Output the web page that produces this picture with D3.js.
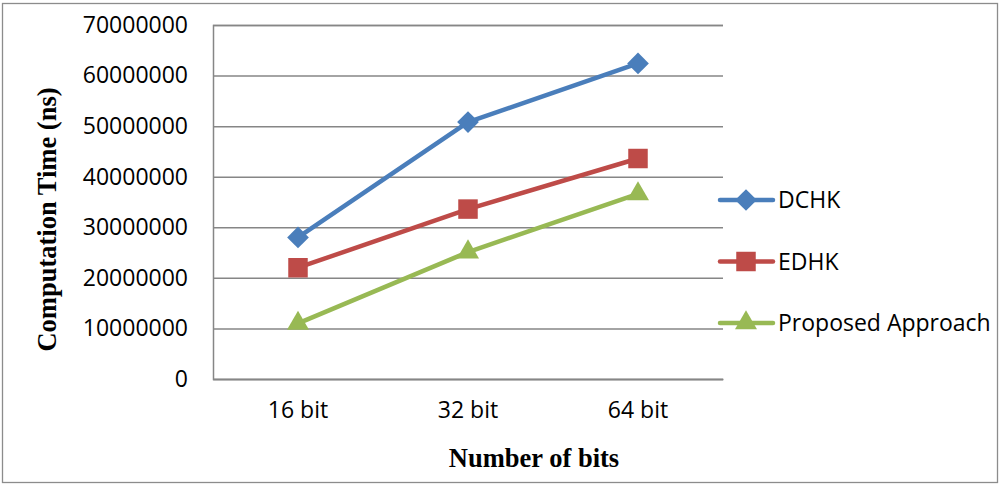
<!DOCTYPE html>
<html><head><meta charset="utf-8">
<script src="https://cdn.jsdelivr.net/npm/d3@7"></script>
<style>body{margin:0;background:#fff}svg{display:block}</style>
</head><body><div id="chart"></div>
<script>
const categories = ["16 bit", "32 bit", "64 bit"];
const dchk = [28000000, 50800000, 62400000];
const edhk = [22000000, 33600000, 43600000];
const proposed = [11000000, 25100000, 36600000];
const yTicks = [0, 10000000, 20000000, 30000000, 40000000, 50000000, 60000000, 70000000];
const seriesNames = ["DCHK", "EDHK", "Proposed Approach"];
const seriesColors = ["#4A7EBB", "#BE4B48", "#98B954"];
const seriesSymbols = [d3.symbolDiamond2, d3.symbolSquare, d3.symbolTriangle];

const series = [dchk, edhk, proposed].map((v, i) => ({name: seriesNames[i], values: v, color: seriesColors[i], symbol: seriesSymbols[i]}));

const W = 1000, H = 484;
const svg = d3.select("#chart").append("svg").attr("width", W).attr("height", H);

svg.append("rect").attr("x", 2.5).attr("y", 3.5).attr("width", 995).attr("height", 479)
  .attr("fill", "#fff").attr("stroke", "#8c8c8c").attr("stroke-width", 1.3);

const m = {left: 213, right: 723, top: 25, bottom: 379};
const x = d3.scaleBand().domain(categories).range([m.left, m.right]);
const y = d3.scaleLinear().domain([0, 70000000]).range([m.bottom, m.top]);
const symSize = s => s === d3.symbolTriangle ? 210 : (s === d3.symbolSquare ? 380 : 300);

const yAxis = d3.axisLeft(y).tickValues(yTicks).tickSize(-(m.right - m.left)).tickFormat(d3.format("d"));
const gy = svg.append("g").attr("transform", `translate(${m.left},0)`).call(yAxis);
gy.select(".domain").attr("stroke", "#868686").attr("stroke-width", 1.5);
gy.selectAll(".tick line").attr("stroke", "#868686").attr("stroke-width", 1.5);
gy.selectAll(".tick text").attr("font-family", "'Open Sans', sans-serif").attr("font-size", 23).attr("fill", "#000").attr("x", -25);

const xAxis = d3.axisBottom(x).tickSize(0).tickPadding(23);
const gx = svg.append("g").attr("transform", `translate(0,${m.bottom})`).call(xAxis);
gx.select(".domain").attr("stroke", "#868686").attr("stroke-width", 1.5);
gx.selectAll(".tick text").attr("font-family", "'Open Sans', sans-serif").attr("font-size", 23).attr("fill", "#000");

const cx = d => x(d) + x.bandwidth() / 2;
const line = d3.line().x((d, i) => cx(categories[i])).y(d => y(d));

series.forEach(s => {
  svg.append("path").datum(s.values).attr("d", line).attr("fill", "none")
    .attr("stroke", s.color).attr("stroke-width", 4.5).attr("stroke-linejoin", "round").attr("stroke-linecap", "round");
  svg.selectAll(null).data(s.values).enter().append("path")
    .attr("d", d3.symbol().type(s.symbol).size(symSize(s.symbol)))
    .attr("transform", (d, i) => `translate(${cx(categories[i])},${y(d)})`)
    .attr("fill", s.color);
});

const lg = svg.append("g");
series.forEach((s, i) => {
  const ly = 200 + i * 61.5;
  lg.append("line").attr("x1", 720).attr("x2", 773).attr("y1", ly).attr("y2", ly)
    .attr("stroke", s.color).attr("stroke-width", 4.5).attr("stroke-linecap", "round");
  lg.append("path").attr("d", d3.symbol().type(s.symbol).size(symSize(s.symbol)))
    .attr("transform", `translate(746,${ly})`).attr("fill", s.color);
  lg.append("text").attr("x", 778).attr("y", ly).attr("dy", "0.35em")
    .attr("font-family", "'Open Sans', sans-serif").attr("font-size", 23).attr("fill", "#000").text(s.name);
});

svg.append("text").attr("x", 534).attr("y", 467).attr("text-anchor", "middle")
  .attr("font-family", "'Liberation Serif', 'Times New Roman', serif").attr("font-weight", "bold").attr("font-size", 26.5)
  .text("Number of bits");
svg.append("text").attr("transform", "translate(56,219.5) rotate(-90)").attr("text-anchor", "middle")
  .attr("font-family", "'Liberation Serif', 'Times New Roman', serif").attr("font-weight", "bold").attr("font-size", 26.5)
  .text("Computation Time (ns)");
</script></body></html>
